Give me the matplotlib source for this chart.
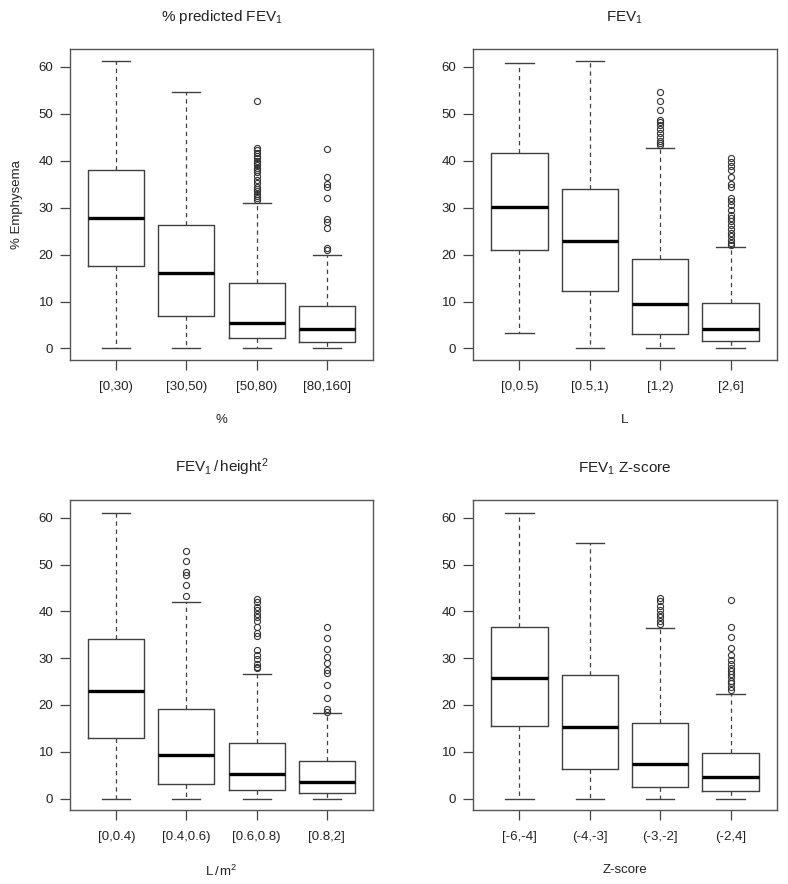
import matplotlib
matplotlib.use("Agg")
import matplotlib.pyplot as plt

plt.rcParams['font.family'] = ['Liberation Sans', 'DejaVu Sans']
plt.rcParams['mathtext.fontset'] = 'custom'
plt.rcParams['mathtext.rm'] = 'Liberation Sans'
plt.rcParams['mathtext.it'] = 'Liberation Sans'

# % predicted FEV1
labels1 = ['[0,30)', '[30,50)', '[50,80)', '[80,160]']
whislo1 = [0.2, 0, 0, 0]
q1_1 = [17.6, 6.9, 2.3, 1.3]
med1 = [27.8, 16.1, 5.5, 4.2]
q3_1 = [38.1, 26.3, 13.9, 9.1]
whishi1 = [61.2, 54.7, 31.0, 19.9]
fliers1 = [[], [],
           [52.8, 42.8, 42.3, 41.6, 41.0, 40.5, 40.0, 39.5, 39.0, 38.5, 38.0, 37.5,
            36.7, 36.0, 35.3, 34.5, 34.0, 33.5, 33.0, 32.5, 32.0, 31.6],
           [42.5, 36.5, 35.0, 34.5, 32.0, 27.5, 27.0, 25.6, 21.4, 20.9]]

# FEV1
labels2 = ['[0,0.5)', '[0.5,1)', '[1,2)', '[2,6]']
whislo2 = [3.4, 0, 0, 0]
q1_2 = [21.0, 12.3, 3.1, 1.6]
med2 = [30.2, 22.9, 9.5, 4.2]
q3_2 = [41.6, 33.9, 19.1, 9.6]
whishi2 = [60.8, 61.2, 42.8, 21.6]
fliers2 = [[], [],
           [54.7, 52.8, 50.8, 48.7, 48.2, 47.6, 46.7, 45.8, 45.0, 44.2, 43.7, 43.3],
           [40.6, 39.8, 38.9, 38.0, 36.6, 35.1, 34.5, 32.0, 31.5, 30.6, 29.5, 28.5,
            27.8, 27.1, 26.3, 25.4, 24.6, 23.9, 23.2, 22.4, 22.1]]

# FEV1/height^2
labels3 = ['[0,0.4)', '[0.4,0.6)', '[0.6,0.8)', '[0.8,2]']
whislo3 = [0, 0, 0, 0]
q1_3 = [12.9, 3.2, 1.8, 1.2]
med3 = [23.0, 9.4, 5.3, 3.5]
q3_3 = [34.2, 19.1, 11.8, 8.0]
whishi3 = [61.1, 42.0, 26.6, 18.2]
fliers3 = [[],
           [52.8, 50.7, 48.5, 47.8, 45.7, 43.3],
           [42.6, 42.1, 40.9, 40.3, 39.5, 38.7, 38.0, 36.6, 35.3, 34.8, 31.8, 30.6,
            29.9, 28.8, 28.1, 27.8],
           [36.6, 34.4, 31.9, 30.2, 29.0, 27.4, 26.8, 24.2, 21.5, 19.1, 18.6]]

# FEV1 Z-score
labels4 = ['[-6,-4]', '(-4,-3]', '(-3,-2]', '(-2,4]']
whislo4 = [0, 0, 0, 0]
q1_4 = [15.6, 6.4, 2.5, 1.6]
med4 = [25.8, 15.3, 7.3, 4.5]
q3_4 = [36.6, 26.3, 16.2, 9.8]
whishi4 = [61.1, 54.6, 36.4, 22.3]
fliers4 = [[], [],
           [42.9, 42.3, 41.2, 40.3, 39.5, 38.7, 38.0, 37.3],
           [42.5, 36.6, 34.5, 32.1, 30.7, 29.5, 28.8, 28.0, 27.3, 26.6, 25.9, 25.1,
            24.6, 23.9, 23.3]]

titles = [r'% predicted FEV$_\mathregular{1}$',
          r'FEV$_\mathregular{1}$',
          r'FEV$_\mathregular{1}$$\,/\,$height$^\mathregular{2}$',
          r'FEV$_\mathregular{1}$ Z-score']
xlabels = ['%', 'L', r'L$\,/\,$m$^\mathregular{2}$', 'Z-score']

panels = [
    (labels1, whislo1, q1_1, med1, q3_1, whishi1, fliers1),
    (labels2, whislo2, q1_2, med2, q3_2, whishi2, fliers2),
    (labels3, whislo3, q1_3, med3, q3_3, whishi3, fliers3),
    (labels4, whislo4, q1_4, med4, q3_4, whishi4, fliers4),
]

W, H = 788, 884
# axes boxes in pixels (left, top, right, bottom)
boxes_px = [(70, 49, 373, 360), (473, 49, 777, 360),
            (70, 500, 373, 810), (473, 500, 777, 810)]

fig = plt.figure(figsize=(W / 100, H / 100), dpi=100)
txt = '#222222'
edge = '#404040'

for k, (labs, lo, q1, med, q3, hi, fl) in enumerate(panels):
    l, t, r, b = boxes_px[k]
    ax = fig.add_axes([l / W, 1 - b / H, (r - l) / W, (b - t) / H])
    stats = []
    for i in range(len(labs)):
        stats.append(dict(whislo=lo[i], q1=q1[i], med=med[i], q3=q3[i],
                          whishi=hi[i], fliers=fl[i], label=labs[i]))
    ax.bxp(stats, positions=range(1, 5), widths=0.8,
           boxprops=dict(color=edge, linewidth=1.0),
           medianprops=dict(color='black', linewidth=2.4, solid_capstyle='butt'),
           whiskerprops=dict(color=edge, linewidth=0.9, linestyle=(0, (3.5, 3))),
           capprops=dict(color=edge, linewidth=1.0),
           capwidths=0.4,
           flierprops=dict(marker='o', markersize=4.4, markerfacecolor='none',
                           markeredgecolor='#333333', markeredgewidth=0.8,
                           linestyle='none'))
    ax.set_xlim(0.34, 4.66)
    ax.set_ylim(-2.45, 63.8)
    ax.set_yticks([0, 10, 20, 30, 40, 50, 60])
    ax.set_xticks([1, 2, 3, 4])
    ax.set_xticklabels(labs)
    ax.tick_params(axis='both', direction='out', length=7, width=0.9,
                   color='#444444', labelsize=9.5, labelcolor=txt)
    ax.tick_params(axis='x', pad=8)
    ax.tick_params(axis='y', pad=5)
    for s in ax.spines.values():
        s.set_color('#555555')
        s.set_linewidth(1.0)
    ax.set_title(titles[k], fontsize=11, color=txt, pad=20)
    ax.set_xlabel(xlabels[k], fontsize=9.5, color=txt, labelpad=15)
    if k == 0:
        ax.set_ylabel('% Emphysema', fontsize=9.5, color=txt, labelpad=11)

fig.savefig('out.png', dpi=100)
